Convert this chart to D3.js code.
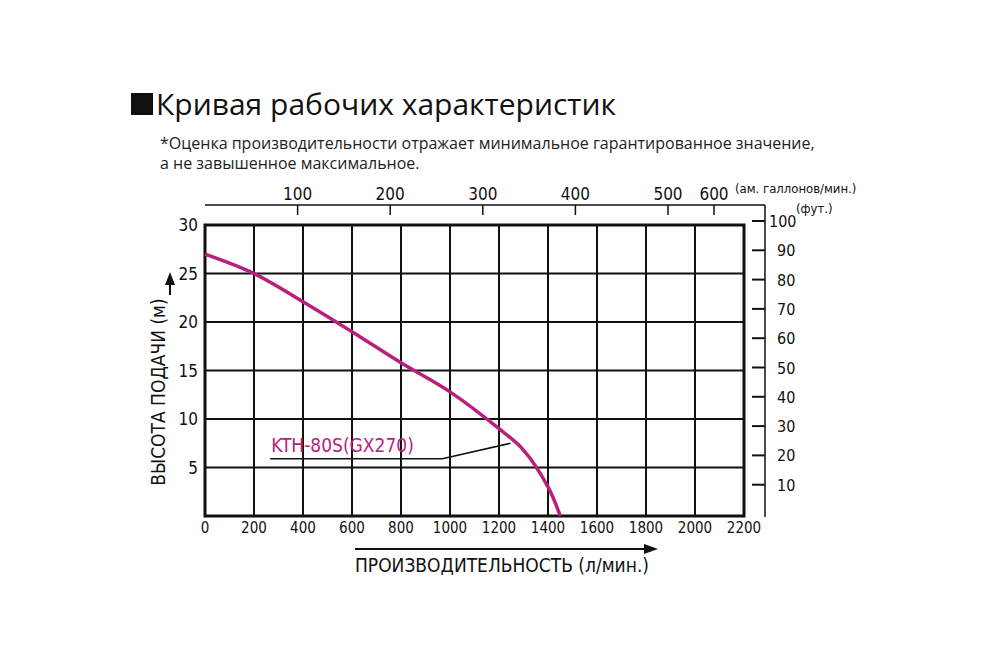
<!DOCTYPE html>
<html><head><meta charset="utf-8">
<script src="https://cdn.jsdelivr.net/npm/d3@7"></script>
<style>body{margin:0;background:#fff}text{font-family:"Liberation Sans Narrow","DejaVu Sans Condensed",sans-serif}</style>
</head><body><svg id="c" width="1000" height="667"></svg>
<script>
const flowLpm = [0,200,400,600,800,1000,1200,1300,1400,1450];
const headM =   [27,25,22.1,19,15.8,12.8,9,6.8,3,0];
const xTicks = [0,200,400,600,800,1000,1200,1400,1600,1800,2000,2200];
const yTicks = [5,10,15,20,25,30];
const galTicks = [100,200,300,400,500,600];
const ftTicks = [10,20,30,40,50,60,70,80,90,100];
const seriesName = "KTH-80S(GX270)";
const leaderX = [266,969,1247];
const leaderY = [5.9,5.9,7.5];

const svg = d3.select("#c");
const x = d3.scaleLinear().domain([0,2200]).range([205,744]);
const y = d3.scaleLinear().domain([0,30]).range([516,225]);
const gal = d3.scaleLinear().domain([0,500,600]).range([205,668,714]);
const ft = d3.scaleLinear().domain([0,100]).range([514,221]);
const mag = "#b81f7e";

// title
svg.append("rect").attr("x",131).attr("y",93).attr("width",22).attr("height",22).attr("fill","#111");
svg.append("text").attr("x",156).attr("y",115).attr("font-size",30).attr("fill","#111")
  .style("font-family","'Open Sans',sans-serif").text("Кривая рабочих характеристик");
svg.append("text").attr("x",160).attr("y",149).attr("font-size",16).attr("fill","#222")
  .style("font-family","'Open Sans',sans-serif").text("*Оценка производительности отражает минимальное гарантированное значение,");
svg.append("text").attr("x",160).attr("y",169).attr("font-size",16).attr("fill","#222")
  .style("font-family","'Open Sans',sans-serif").text("а не завышенное максимальное.");

// grid
const g = svg.append("g");
xTicks.slice(1,-1).forEach(v=>g.append("line").attr("x1",x(v)).attr("x2",x(v)).attr("y1",y(0)).attr("y2",y(30)).attr("stroke","#111").attr("stroke-width",2));
yTicks.slice(0,-1).forEach(v=>g.append("line").attr("x1",x(0)).attr("x2",x(2200)).attr("y1",y(v)).attr("y2",y(v)).attr("stroke","#111").attr("stroke-width",2));
g.append("rect").attr("x",x(0)).attr("y",y(30)).attr("width",x(2200)-x(0)).attr("height",y(0)-y(30)).attr("fill","none").attr("stroke","#111").attr("stroke-width",3);

// bottom labels
xTicks.forEach(v=>svg.append("text").attr("x",x(v)).attr("y",533).attr("text-anchor","middle").attr("font-size",15).attr("fill","#111").text(v));
yTicks.forEach(v=>svg.append("text").attr("x",198).attr("y",y(v)+6).attr("text-anchor","end").attr("font-size",17).attr("fill","#111").text(v));

// top axis
svg.append("line").attr("x1",205).attr("x2",765).attr("y1",205).attr("y2",205).attr("stroke","#111").attr("stroke-width",1.5);
galTicks.forEach(v=>{
  svg.append("line").attr("x1",gal(v)).attr("x2",gal(v)).attr("y1",205).attr("y2",215).attr("stroke","#111").attr("stroke-width",1.5);
  svg.append("text").attr("x",gal(v)).attr("y",200).attr("text-anchor","middle").attr("font-size",17).attr("fill","#111").text(v);
});
svg.append("text").attr("x",735).attr("y",193).attr("font-size",13).attr("fill","#111").text("(ам. галлонов/мин.)");

// right axis
svg.append("line").attr("x1",765).attr("x2",765).attr("y1",205).attr("y2",517).attr("stroke","#111").attr("stroke-width",1.5);
ftTicks.forEach(v=>{
  svg.append("line").attr("x1",752).attr("x2",765).attr("y1",ft(v)).attr("y2",ft(v)).attr("stroke","#111").attr("stroke-width",2);
  svg.append("text").attr("x",v===100?769:777).attr("y",ft(v)+6).attr("font-size",16).attr("fill","#111").text(v);
});
svg.append("text").attr("x",796).attr("y",213).attr("font-size",13).attr("fill","#111").text("(фут.)");

// curve
svg.append("path").datum(flowLpm.map((v,i)=>[v,headM[i]]))
  .attr("d",d3.line().x(d=>x(d[0])).y(d=>y(d[1])).curve(d3.curveCatmullRom.alpha(0.5)))
  .attr("fill","none").attr("stroke",mag).attr("stroke-width",3.5);

// leader
svg.append("path").datum(leaderX.map((v,i)=>[v,leaderY[i]]))
  .attr("d",d3.line().x(d=>x(d[0])).y(d=>y(d[1]))).attr("fill","none").attr("stroke","#111").attr("stroke-width",1.6);
svg.append("text").attr("x",x(leaderX[0])+1).attr("y",452).attr("font-size",19).attr("fill",mag).text(seriesName);

// axis titles
svg.append("text").attr("transform","translate(165,392) rotate(-90)").attr("text-anchor","middle").attr("font-size",19).attr("fill","#111").text("ВЫСОТА ПОДАЧИ (м)");
svg.append("line").attr("x1",170).attr("x2",170).attr("y1",295).attr("y2",280).attr("stroke","#111").attr("stroke-width",2);
svg.append("path").attr("d","M165,285 L170,272 L175,285 Z").attr("fill","#111");
svg.append("line").attr("x1",355).attr("x2",648).attr("y1",549).attr("y2",549).attr("stroke","#111").attr("stroke-width",2);
svg.append("path").attr("d","M644,544 L658,549 L644,554 Z").attr("fill","#111");
svg.append("text").attr("x",355).attr("y",572).attr("font-size",19).attr("fill","#111").text("ПРОИЗВОДИТЕЛЬНОСТЬ (л/мин.)");
</script></body></html>
